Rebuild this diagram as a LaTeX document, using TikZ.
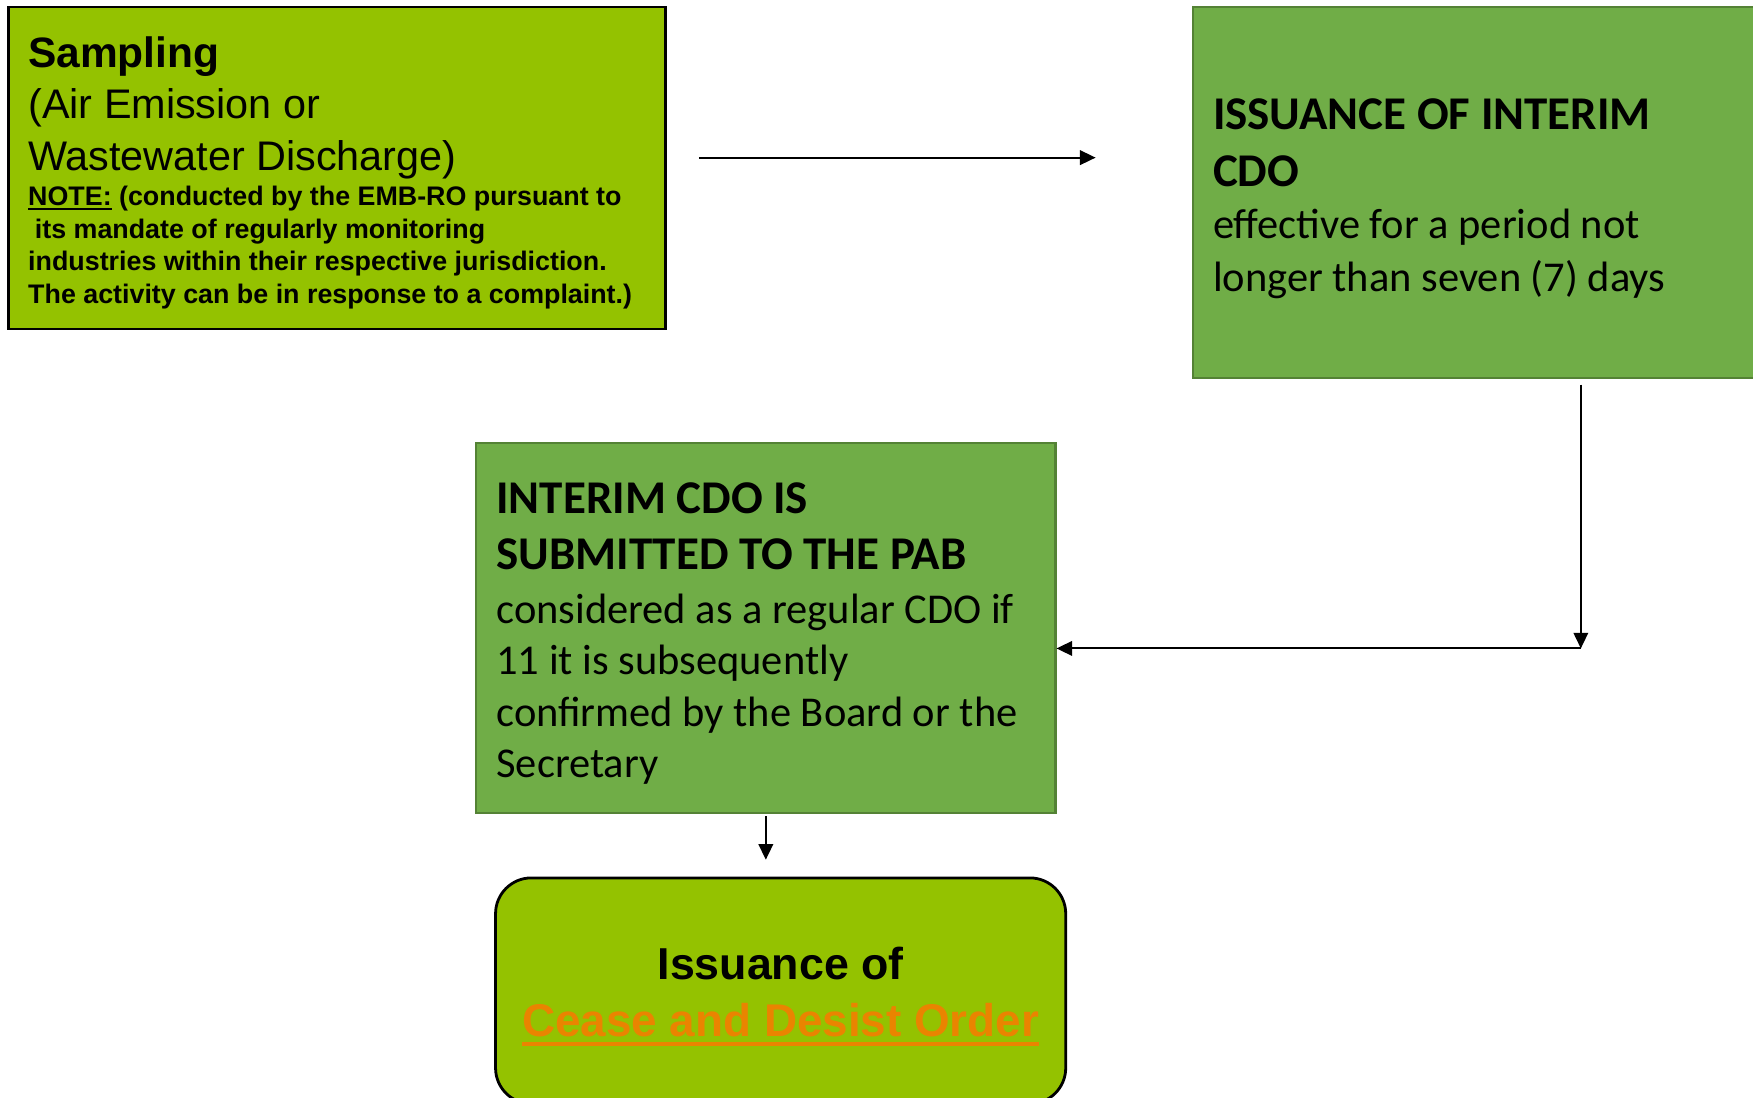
\documentclass[tikz,border=0pt]{standalone}
\usepackage{fontspec}
\setmainfont{Carlito}
\newfontfamily\arial{Liberation Sans}
\usetikzlibrary{arrows.meta}
\definecolor{limefill}{RGB}{148,194,0}
\definecolor{ogreen}{RGB}{112,173,71}
\definecolor{ogborder}{RGB}{84,130,53}
\definecolor{cdoorange}{RGB}{234,132,0}
\setlength{\parindent}{0pt}
\newcommand\ulbox[3]{\setbox0=\hbox{#1}\makebox[0pt][l]{\rule[#2]{\wd0}{#3}}\box0\relax}
\newcommand\rs{\spaceskip=\fontdimen2\font\relax\xspaceskip=\fontdimen2\font\relax}
\tikzset{
  limebox/.style={draw=black, line width=2.5pt, fill=limefill, anchor=north west, inner ysep=0pt, align=left},
  greenbox/.style={draw=ogborder, line width=2pt, fill=ogreen, anchor=north west, inner ysep=0pt, align=left},
  arr/.style={line width=1.8pt, -{Triangle[length=14pt,width=13pt]}}
}
\begin{document}
\begin{tikzpicture}[x=1pt, y=-1pt]
\useasboundingbox (0,0) rectangle (1568,982);
% Sampling box
\node[limebox, minimum width=588pt, minimum height=288pt, inner xsep=18pt, text width=552pt] (samp) at (6,5) {%
{\arial\bfseries\fontsize{38}{46}\selectfont\rs\rule{0pt}{36pt}Sampling\par}
{\arial\fontsize{37}{46}\selectfont\rs (Air Emission or\\Wastewater Discharge)\par}
\vspace{3pt}
{\arial\bfseries\fontsize{24}{29}\selectfont\rs \ulbox{NOTE:}{-3.5pt}{1.6pt} (conducted by the EMB-RO pursuant to\\\hspace*{6pt}its mandate of regularly monitoring\\industries within their respective jurisdiction.\\The activity can be in response to a complaint.)\par}};
% Interim CDO box
\node[greenbox, minimum width=520pt, minimum height=332pt, inner xsep=18pt, text width=484pt] (iss) at (1066,5) {%
{\bfseries\fontsize{42}{51}\selectfont\rs\rule{0pt}{39pt}ISSUANCE OF INTERIM\\CDO\par}
{\fontsize{38}{47}\selectfont\rs effective for a period not\\longer than seven (7) days\par}};
% PAB box
\node[greenbox, minimum width=518pt, minimum height=331pt, inner xsep=18pt, text width=482pt] (pab) at (425,395) {%
{\bfseries\fontsize{42}{50}\selectfont\rs\rule{0pt}{38pt}INTERIM CDO IS\\SUBMITTED TO THE PAB\par}
\vspace{2pt}
{\fontsize{38}{46}\selectfont\rs considered as a regular CDO if\\11 it is subsequently\\confirmed by the Board or the\\Secretary\par}};
% Cease and desist order box
\node[limebox, rounded corners=32pt, align=center, minimum width=510pt, minimum height=202pt, inner xsep=10pt, text width=490pt] (cdo) at (442,784) {%
{\arial\bfseries\fontsize{40}{51}\selectfont\rs\rule{0pt}{39pt}Issuance of\par}
{\arial\bfseries\fontsize{41}{51}\selectfont\rs\leavevmode\color{cdoorange}\ulbox{Cease and Desist Order}{-8pt}{3.5pt}\par}};
% connectors
\coordinate (a1s) at (625,141);
\coordinate (a1e) at (980,141);
\coordinate (a2s) at (1414,344);
\coordinate (a2b) at (1414,580);
\draw[arr] (a1s) -- (a1e);
\draw[arr] (a2s) -- (a2b);
\draw[arr] (a2b) -- (pab.east |- a2b);
\draw[arr, shorten <=2pt, shorten >=15pt] (pab.south) -- (pab.south |- cdo.north);
\end{tikzpicture}
\end{document}
